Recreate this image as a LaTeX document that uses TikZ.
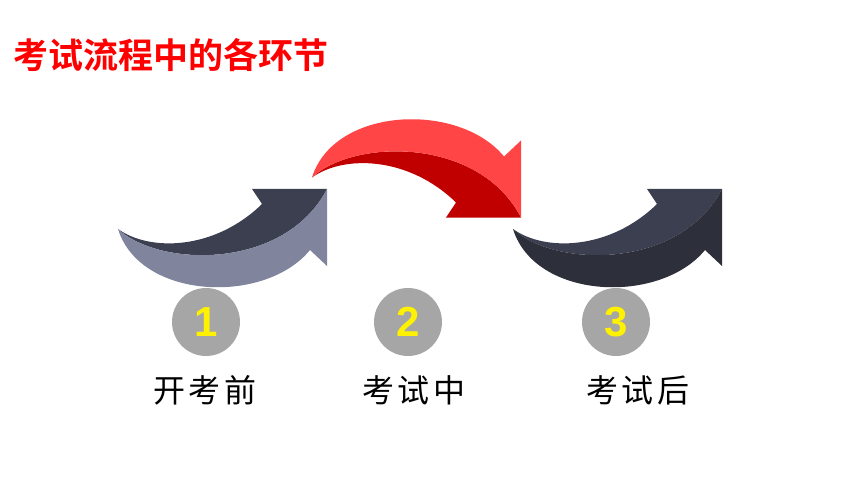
\documentclass[tikz,border=0pt]{standalone}
\usepackage{fontspec}
\usepackage{tikz}
\usepackage{xcolor}
\newfontfamily\cjk{Noto Sans CJK SC}[BoldFont=Noto Sans CJK SC Bold]
\newfontfamily\cjkwide{Noto Sans CJK SC}[LetterSpace=10]
\newfontfamily\digitfont{Liberation Sans}

\definecolor{slatedark}{HTML}{3C3F50}
\definecolor{slatelight}{HTML}{80859D}
\definecolor{slatedeep}{HTML}{2D2F3B}
\definecolor{reddark}{HTML}{C00000}
\definecolor{redlight}{HTML}{FF4545}
\definecolor{discgrey}{HTML}{A6A6A6}
\definecolor{titlered}{HTML}{FF0000}

\tikzset{
  % curved band arrow, tip at the origin: #1 inner band, #2 outer band
  pics/bendarrow/.style 2 args={code={
    \fill[#1] (0,0) .. controls (32,23) and (97,21) .. (144,-25) -- (134,-40) -- (209,-40)
      .. controls (167,41) and (42,39) .. (0,0) -- cycle;
    \fill[#2] (0,0) .. controls (42,39) and (167,41) .. (209,-40) -- (209,37) -- (192,21)
      .. controls (147,76) and (22,71) .. (0,0) -- cycle;
  }},
  numdisc/.style={circle, fill=discgrey, minimum size=68pt, inner sep=0pt,
    text=yellow, font=\digitfont\bfseries\fontsize{42}{42}\selectfont},
  phaselabel/.style={inner sep=0pt, font=\cjkwide\fontsize{32}{32}\selectfont}
}

\begin{document}
\begin{tikzpicture}[x=1pt, y=-1pt]
    \useasboundingbox (0,0) rectangle (860,484);

    % Title
    \node[anchor=west, inner sep=0pt, text=titlered, font=\cjk\bfseries\fontsize{35}{35}\selectfont]
      (title) at (13,55) {考试流程中的各环节};

    % The three arrows
    \pic at (118,229) {bendarrow={slatedark}{slatelight}};            % before
    \pic[yscale=-1] at (312,177.5) {bendarrow={reddark}{redlight}};   % during (red, flipped)
    \pic at (513,229) {bendarrow={slatedark}{slatedeep}};             % after

    % Numbered discs and labels
    \foreach \n/\x/\lab/\lx in {1/206/开考前/205, 2/408/考试中/414, 3/616/考试后/638} {
        \node[numdisc] (c\n) at (\x,322) {\n};
        \node[phaselabel] (lab\n) at (\lx,390) {\lab};
    }

\end{tikzpicture}
\end{document}
